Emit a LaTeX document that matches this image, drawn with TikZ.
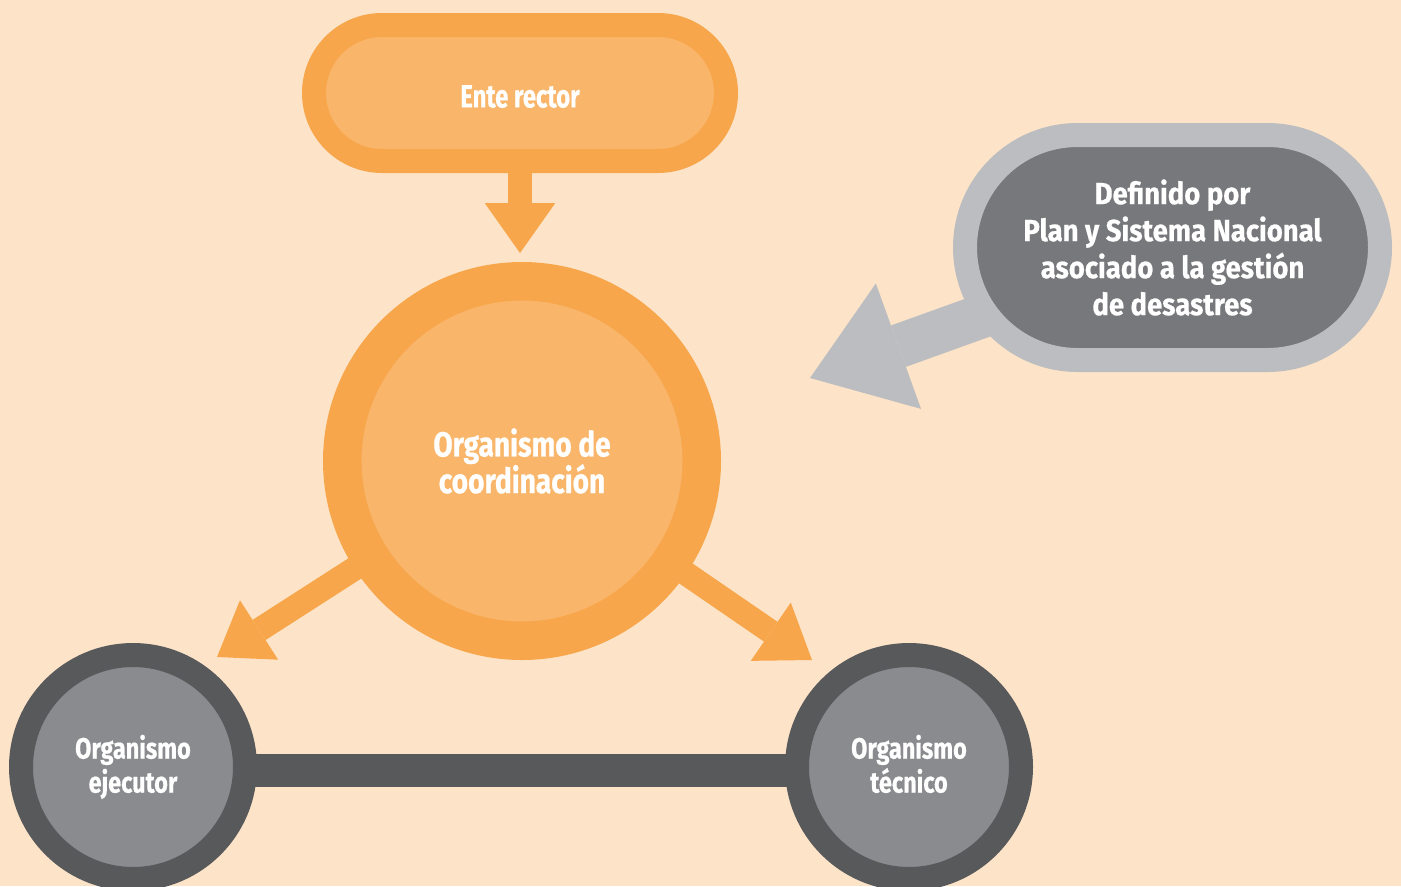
\documentclass[tikz,border=0pt]{standalone}
\usepackage{fontspec}
\setmainfont{Fira Sans}[FakeStretch=0.8]
\newfontfamily\fEnte{Fira Sans}[FakeStretch=0.745,FakeBold=0.6]
\newfontfamily\fCall{Fira Sans}[FakeStretch=0.90,FakeBold=0.6]
\newfontfamily\fSmall{Fira Sans}[FakeStretch=0.80,FakeBold=0.6]
\newfontfamily\fBig{Fira Sans}[FakeStretch=0.81,FakeBold=0.6]
\usetikzlibrary{arrows.meta}
\definecolor{bgc}{HTML}{FDE4C8}
\definecolor{oout}{HTML}{F8A64B}
\definecolor{oin}{HTML}{F9B66B}
\definecolor{gdark}{HTML}{58595B}
\definecolor{gmid}{HTML}{8A8B8E}
\definecolor{cout}{HTML}{BCBDC0}
\definecolor{cin}{HTML}{77787B}
\pgfdeclarelayer{bglayer}
\pgfdeclarelayer{lower}
\pgfsetlayers{bglayer,lower,main}
\begin{document}
\begin{tikzpicture}[x=0.75pt,y=-0.75pt,
  lbl/.style={text=white, align=center, inner sep=0pt},
  entepill/.style={lbl, rectangle, rounded corners=51pt, draw=oout, fill=oin,
    line width=18pt, minimum width=309pt, minimum height=102pt, text height=22pt,
    font={\fEnte\fontsize{24}{28}\selectfont\bfseries}},
  callpill/.style={lbl, rectangle, rounded corners=84.4pt, draw=cout, fill=cin,
    line width=18pt, minimum width=311.25pt, minimum height=168.75pt,
    font={\fCall\fontsize{22.9}{27.75}\selectfont\bfseries}},
  ocirc/.style={lbl, circle, draw=oout, fill=oin, line width=28.9pt,
    minimum size=269.6pt, font={\fBig\fontsize{26}{27.5}\selectfont\bfseries}},
  gcirc/.style={lbl, circle, draw=gdark, fill=gmid, line width=18pt,
    minimum size=168pt, text depth=5pt, font={\fSmall\fontsize{22}{25.5}\selectfont\bfseries}},
  oarrow/.style={draw=oout, line width=18pt,
    -{Triangle[length=37.5pt,width=53pt,line width=0pt]}},
  garrow/.style={draw=cout, line width=33pt,
    -{Triangle[length=70.5pt,width=100pt,line width=0pt]}},
  gbar/.style={draw=gdark, line width=24.75pt}
]
\useasboundingbox (0,0) rectangle (1401,886);
\begin{pgfonlayer}{bglayer}
  \fill[bgc] (0,0) rectangle (1401,886);
\end{pgfonlayer}

\node[entepill] (ente) at (520,93) {Ente rector};
\node[ocirc] (coord) at (522,461) {Organismo de\\coordinación};
\node[callpill] (call) at (1172.5,247.5) {Definido por\\Plan y Sistema Nacional\\asociado a la gestión\\de desastres};
\node[gcirc] (ejec) at (133,767) {Organismo\\ejecutor};
\node[gcirc] (tecn) at (909,767) {Organismo\\técnico};

\coordinate (tD) at (520,253);
\coordinate (tL) at (217,657);
\coordinate (tR) at (812,660);
\coordinate (tG) at (810,378);

\begin{pgfonlayer}{lower}
  \draw[oarrow] (ente.center) -- (tD);
  \draw[oarrow] (coord.center) -- (tL);
  \draw[oarrow] (coord.center) -- (tR);
  \draw[garrow] (call.center) -- (tG);
  \draw[gbar] ([yshift=-2.25pt]ejec.center) -- ([yshift=-2.25pt]tecn.center);
\end{pgfonlayer}
\end{tikzpicture}
\end{document}
